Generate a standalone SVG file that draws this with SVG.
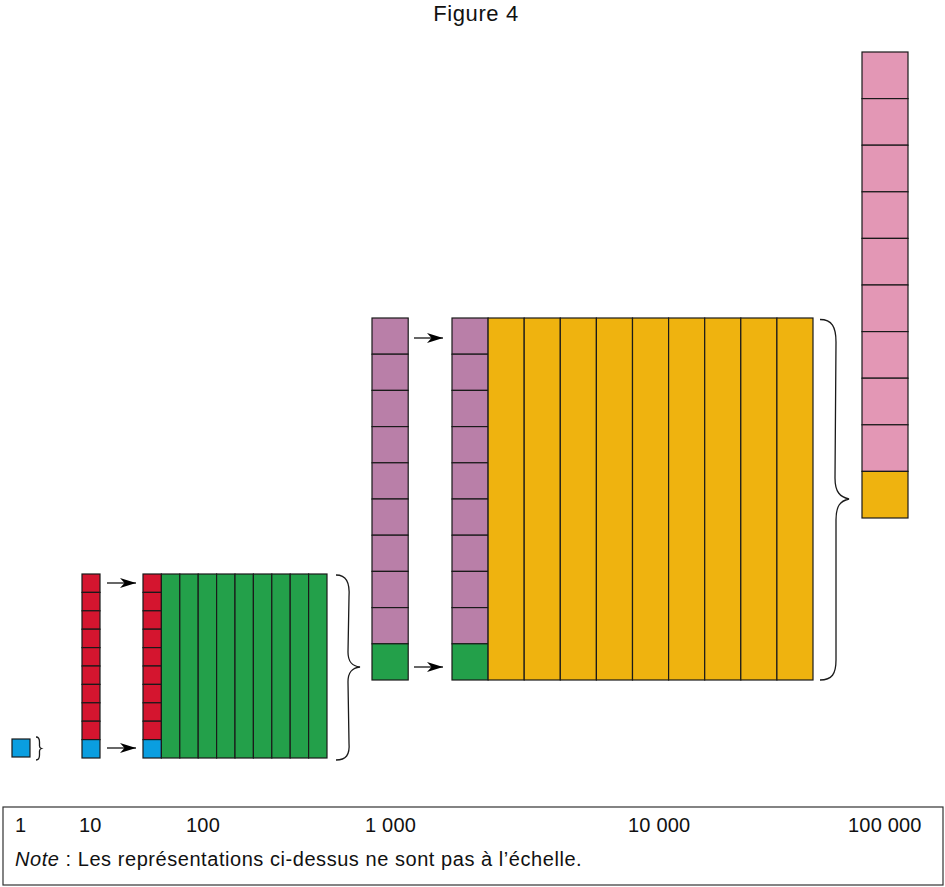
<svg xmlns="http://www.w3.org/2000/svg" width="945" height="887" viewBox="0 0 945 887">
<style>
.c{stroke:#1a1a1a;stroke-width:1.2}
.bl{fill:#0a9ee0}.rd{fill:#d4152f}.gr{fill:#23a04a}.pu{fill:#b97fa8}.ye{fill:#efb30f}.pk{fill:#e397b5}
.br{fill:none;stroke:#1a1a1a;stroke-width:1.3}
.ar{stroke:#000;stroke-width:1.2;marker-end:url(#ah)}
text{font-family:"Liberation Sans",Arial,sans-serif;fill:#111}
.lb{font-size:20px;letter-spacing:0.2px}
.nt{font-size:20px;letter-spacing:0.55px}
</style>
<defs>
<marker id="ah" markerUnits="userSpaceOnUse" markerWidth="18" markerHeight="12" refX="16" refY="5" orient="auto">
<path d="M0,0 L16,5 L0,10 L4.5,5 z" fill="#000"/>
</marker>
</defs>
<text x="476" y="21" font-size="22" letter-spacing="0.6" text-anchor="middle">Figure 4</text>

<g id="unit">
<rect class="c bl" x="12" y="739" width="18" height="18"/>
</g>

<g id="ten">
<rect class="c rd" x="82" y="574" width="18" height="18.4"/>
<rect class="c rd" x="82" y="592.4" width="18" height="18.4"/>
<rect class="c rd" x="82" y="610.8" width="18" height="18.4"/>
<rect class="c rd" x="82" y="629.2" width="18" height="18.4"/>
<rect class="c rd" x="82" y="647.6" width="18" height="18.4"/>
<rect class="c rd" x="82" y="666" width="18" height="18.4"/>
<rect class="c rd" x="82" y="684.4" width="18" height="18.4"/>
<rect class="c rd" x="82" y="702.8" width="18" height="18.4"/>
<rect class="c rd" x="82" y="721.2" width="18" height="18.4"/>
<rect class="c bl" x="82" y="739.6" width="18" height="18.4"/>
</g>

<g id="hundred">
<rect class="c rd" x="143" y="574" width="18.4" height="18.4"/>
<rect class="c rd" x="143" y="592.4" width="18.4" height="18.4"/>
<rect class="c rd" x="143" y="610.8" width="18.4" height="18.4"/>
<rect class="c rd" x="143" y="629.2" width="18.4" height="18.4"/>
<rect class="c rd" x="143" y="647.6" width="18.4" height="18.4"/>
<rect class="c rd" x="143" y="666" width="18.4" height="18.4"/>
<rect class="c rd" x="143" y="684.4" width="18.4" height="18.4"/>
<rect class="c rd" x="143" y="702.8" width="18.4" height="18.4"/>
<rect class="c rd" x="143" y="721.2" width="18.4" height="18.4"/>
<rect class="c bl" x="143" y="739.6" width="18.4" height="18.4"/>
<rect class="c gr" x="161.4" y="574" width="18.4" height="184"/>
<rect class="c gr" x="179.8" y="574" width="18.4" height="184"/>
<rect class="c gr" x="198.2" y="574" width="18.4" height="184"/>
<rect class="c gr" x="216.6" y="574" width="18.4" height="184"/>
<rect class="c gr" x="235" y="574" width="18.4" height="184"/>
<rect class="c gr" x="253.4" y="574" width="18.4" height="184"/>
<rect class="c gr" x="271.8" y="574" width="18.4" height="184"/>
<rect class="c gr" x="290.2" y="574" width="18.4" height="184"/>
<rect class="c gr" x="308.6" y="574" width="18.4" height="184"/>
</g>

<g id="thousand">
<rect class="c pu" x="372" y="318" width="36.2" height="36.2"/>
<rect class="c pu" x="372" y="354.2" width="36.2" height="36.2"/>
<rect class="c pu" x="372" y="390.4" width="36.2" height="36.2"/>
<rect class="c pu" x="372" y="426.6" width="36.2" height="36.2"/>
<rect class="c pu" x="372" y="462.8" width="36.2" height="36.2"/>
<rect class="c pu" x="372" y="499" width="36.2" height="36.2"/>
<rect class="c pu" x="372" y="535.2" width="36.2" height="36.2"/>
<rect class="c pu" x="372" y="571.4" width="36.2" height="36.2"/>
<rect class="c pu" x="372" y="607.6" width="36.2" height="36.2"/>
<rect class="c gr" x="372" y="643.8" width="36.2" height="36.2"/>
</g>

<g id="tenthousand">
<rect class="c pu" x="452" y="318" width="36.1" height="36.2"/>
<rect class="c pu" x="452" y="354.2" width="36.1" height="36.2"/>
<rect class="c pu" x="452" y="390.4" width="36.1" height="36.2"/>
<rect class="c pu" x="452" y="426.6" width="36.1" height="36.2"/>
<rect class="c pu" x="452" y="462.8" width="36.1" height="36.2"/>
<rect class="c pu" x="452" y="499" width="36.1" height="36.2"/>
<rect class="c pu" x="452" y="535.2" width="36.1" height="36.2"/>
<rect class="c pu" x="452" y="571.4" width="36.1" height="36.2"/>
<rect class="c pu" x="452" y="607.6" width="36.1" height="36.2"/>
<rect class="c gr" x="452" y="643.8" width="36.1" height="36.2"/>
<rect class="c ye" x="488.1" y="318" width="36.1" height="362"/>
<rect class="c ye" x="524.2" y="318" width="36.1" height="362"/>
<rect class="c ye" x="560.3" y="318" width="36.1" height="362"/>
<rect class="c ye" x="596.4" y="318" width="36.1" height="362"/>
<rect class="c ye" x="632.5" y="318" width="36.1" height="362"/>
<rect class="c ye" x="668.6" y="318" width="36.1" height="362"/>
<rect class="c ye" x="704.7" y="318" width="36.1" height="362"/>
<rect class="c ye" x="740.8" y="318" width="36.1" height="362"/>
<rect class="c ye" x="776.9" y="318" width="36.1" height="362"/>
</g>

<g id="hundredthousand">
<rect class="c pk" x="862" y="52" width="46" height="46.6"/>
<rect class="c pk" x="862" y="98.6" width="46" height="46.6"/>
<rect class="c pk" x="862" y="145.2" width="46" height="46.6"/>
<rect class="c pk" x="862" y="191.8" width="46" height="46.6"/>
<rect class="c pk" x="862" y="238.4" width="46" height="46.6"/>
<rect class="c pk" x="862" y="285" width="46" height="46.6"/>
<rect class="c pk" x="862" y="331.6" width="46" height="46.6"/>
<rect class="c pk" x="862" y="378.2" width="46" height="46.6"/>
<rect class="c pk" x="862" y="424.8" width="46" height="46.6"/>
<rect class="c ye" x="862" y="471.4" width="46" height="46.6"/>
</g>

<g id="connectors">
<path class="br" d="M36,737 C39,737 39.5,739 39.5,742 L39.5,746 C39.5,747.5 40,748 41.5,748.5 C40,749 39.5,749.5 39.5,751 L39.5,755 C39.5,758 39,760 36,760"/>
<path class="br" d="M336,575 C346,575 350,582 349,597 L348,652 C348,662 352,666 360,667 C352,668 348,672 348,682 L349,743 C350,755 346,760 336,760"/>
<path class="br" d="M820,319.5 C832,319.5 836,327 836,342 L835,478 C835,492 840,497 849,499 C840,501 836,506 836,520 L836,660 C836,674 832,680 820,680"/>
<line class="ar" x1="107" y1="583" x2="136" y2="583"/>
<line class="ar" x1="107" y1="748" x2="136" y2="748"/>
<line class="ar" x1="414" y1="338" x2="443" y2="338"/>
<line class="ar" x1="414" y1="667" x2="443" y2="667"/>
</g>

<g id="legend">
<rect x="3" y="807" width="940" height="78" fill="none" stroke="#333" stroke-width="1.2"/>
<text class="lb" x="15" y="832">1</text>
<text class="lb" x="79" y="832">10</text>
<text class="lb" x="186" y="832">100</text>
<text class="lb" x="365" y="832">1 000</text>
<text class="lb" x="628" y="832">10 000</text>
<text class="lb" x="848" y="832">100 000</text>
<text class="nt" x="15" y="866"><tspan font-style="italic">Note</tspan> : Les représentations ci-dessus ne sont pas à l’échelle.</text>
</g>
</svg>
